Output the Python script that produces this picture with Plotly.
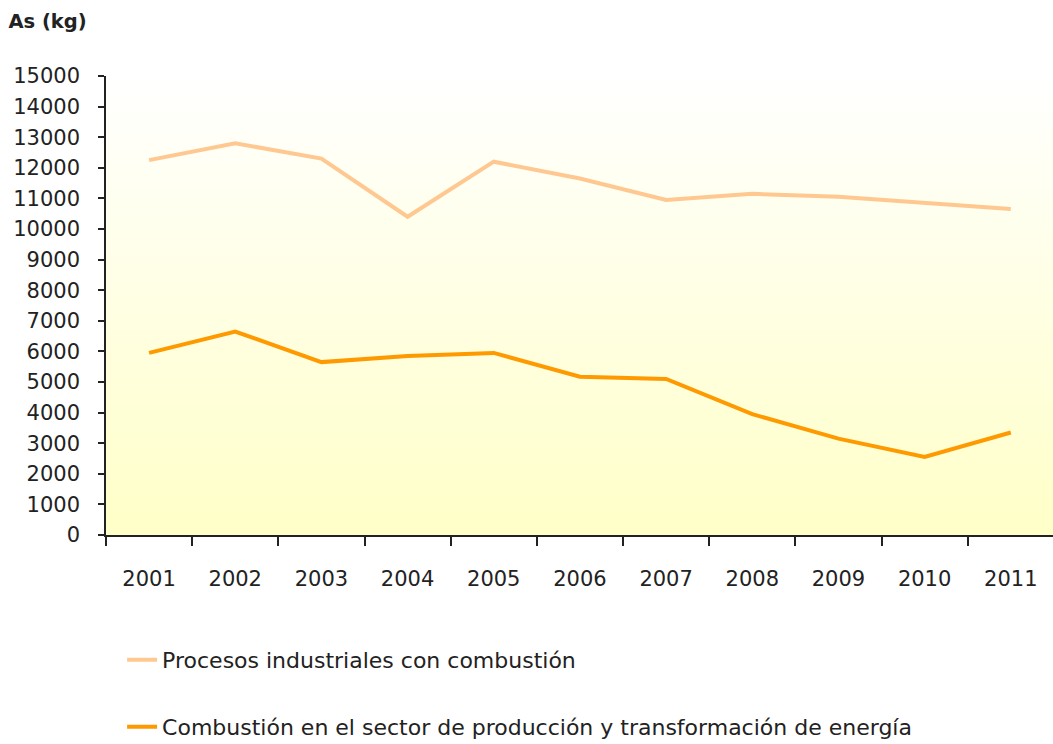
import base64
import struct
import zlib

import plotly.graph_objects as go

# Arsenic emissions by year (kg)
years = ["2001", "2002", "2003", "2004", "2005", "2006",
         "2007", "2008", "2009", "2010", "2011"]
procesos_industriales = [12250, 12800, 12300, 10400, 12200, 11650,
                         10950, 11150, 11050, 10850, 10650]
combustion_energia = [5950, 6650, 5650, 5850, 5950, 5170,
                      5100, 3950, 3150, 2550, 3350]

name_procesos = "Procesos industriales con combustión"
name_combustion = "Combustión en el sector de producción y transformación de energía"

FONT = "DejaVu Sans"
INK = "#222222"


def vertical_gradient_png(top, bottom, steps=256):
    """Build a 1-pixel-wide PNG that fades from `top` to `bottom` (RGB)."""
    rows = b""
    for i in range(steps):
        t = i / (steps - 1)
        px = bytes(round(a + (b - a) * t) for a, b in zip(top, bottom))
        rows += b"\x00" + px

    def chunk(tag, data):
        body = tag + data
        return struct.pack(">I", len(data)) + body + struct.pack(">I", zlib.crc32(body) & 0xFFFFFFFF)

    png = b"\x89PNG\r\n\x1a\n"
    png += chunk(b"IHDR", struct.pack(">IIBBBBB", 1, steps, 8, 2, 0, 0, 0))
    png += chunk(b"IDAT", zlib.compress(rows))
    png += chunk(b"IEND", b"")
    return "data:image/png;base64," + base64.b64encode(png).decode()


fig = go.Figure()
fig.add_trace(go.Scatter(
    x=years, y=procesos_industriales, name=name_procesos, mode="lines",
    line=dict(color="#FFC891", width=4), legend="legend", showlegend=True,
))
fig.add_trace(go.Scatter(
    x=years, y=combustion_energia, name=name_combustion, mode="lines",
    line=dict(color="#FF9900", width=4), legend="legend2", showlegend=True,
))

legend_style = dict(
    font=dict(family=FONT, size=22, color=INK),
    bgcolor="rgba(0,0,0,0)", xanchor="left", yanchor="middle",
    orientation="v", visible=True,
)

fig.update_layout(
    width=1053, height=744,
    showlegend=True,
    margin=dict(l=106, r=0, t=76, b=209, autoexpand=False),
    paper_bgcolor="white",
    plot_bgcolor="white",
    font=dict(family=FONT, size=21, color=INK),
    title=dict(
        text="<b>As (kg)</b>", x=0.008, xanchor="left", y=0.972, yanchor="middle",
        xref="container", yref="container",
        font=dict(family=FONT, size=19.5, color=INK),
    ),
    legend=dict(x=0.017, y=-0.272, **legend_style),
    legend2=dict(x=0.017, y=-0.418, **legend_style),
    images=[dict(
        source=vertical_gradient_png((255, 255, 255), (255, 255, 200)),
        xref="paper", yref="paper", x=0, y=1, sizex=1, sizey=1,
        xanchor="left", yanchor="top", sizing="stretch", layer="below",
    )],
    xaxis=dict(
        type="category", range=[-0.5, 10.49],
        tickson="boundaries", ticks="outside", ticklen=9,
        tickcolor=INK, tickwidth=1.5, tickangle=0,
        showline=True, linecolor=INK, linewidth=1.5,
        showgrid=False, zeroline=False, ticklabelstandoff=24,
        tickfont=dict(family=FONT, size=21, color=INK),
    ),
    yaxis=dict(
        range=[0, 15000], dtick=1000, tick0=0, tickformat="d",
        ticks="outside", ticklen=6,
        tickcolor=INK, tickwidth=1.5,
        showline=True, linecolor=INK, linewidth=1.5,
        showgrid=False, zeroline=False, ticklabelstandoff=14,
        tickfont=dict(family=FONT, size=21, color=INK),
    ),
)

fig.write_html("out.html")
